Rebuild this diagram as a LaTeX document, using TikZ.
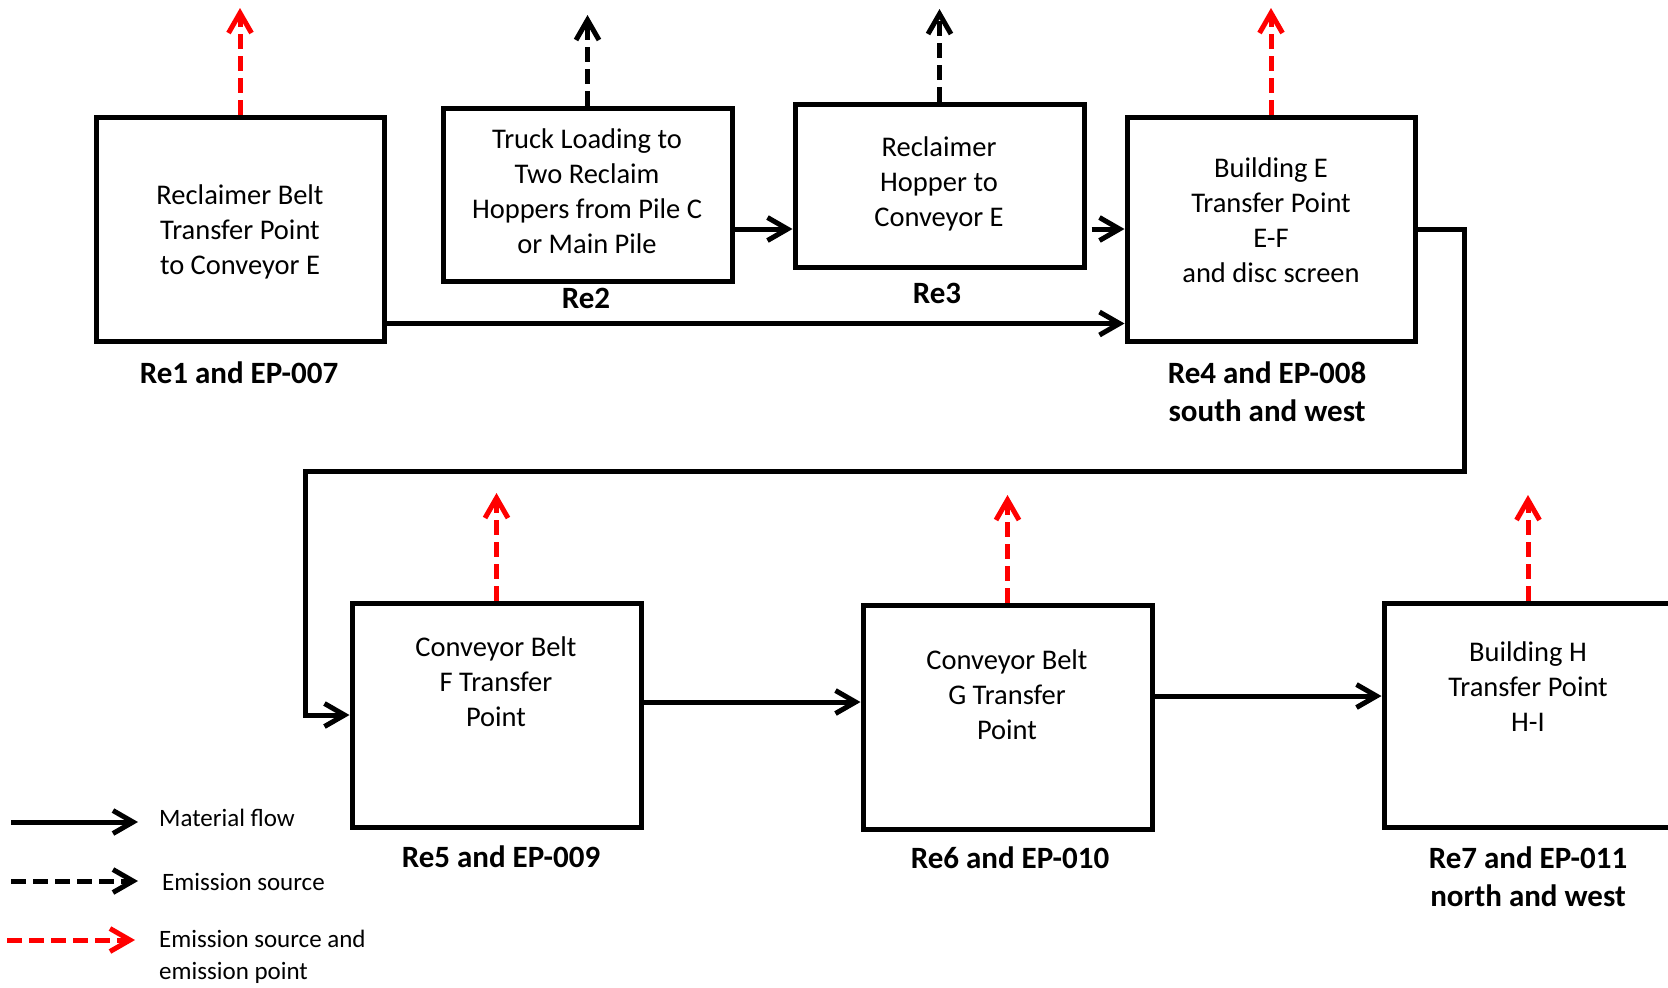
\documentclass[tikz,border=0pt]{standalone}
\usepackage{fontspec}
\setmainfont{Carlito}
\usetikzlibrary{arrows.meta}

\begin{document}
\begin{tikzpicture}[x=0.5pt, y=-0.5pt, line width=2.5pt]
\tikzstyle{block}=[rectangle, draw=black, line width=2.5pt, inner sep=0pt]
\tikzstyle{blocktext}=[align=center, font=\fontsize{14.25}{17.5}\selectfont]
\tikzstyle{tag}=[align=center, font=\fontsize{15.5}{19}\selectfont\bfseries]
\tikzstyle{legendtext}=[anchor=west, align=left, font=\fontsize{12.5}{16}\selectfont]
\tikzstyle{flow}=[line width=2.5pt, -{Straight Barb[length=10pt, width=11.5pt]}]
\tikzstyle{emitsrc}=[flow, dash pattern=on 7.5pt off 3.5pt]
\tikzstyle{emitpt}=[emitsrc, red]

\useasboundingbox (0,0) rectangle (1668,987);

% top row
\node[block, minimum width=144pt, minimum height=112pt] (Re1) at (240,229) {};
\node[blocktext] (Re1t) at (240,232) {Reclaimer Belt\\Transfer Point\\to Conveyor E};
\node[tag] (Re1l) at (239,373) {Re1 and EP-007};
\node[block, minimum width=144.5pt, minimum height=86.5pt] (Re2) at (587.5,194.5) {};
\node[blocktext] (Re2t) at (587,191) {Truck Loading to\\Two Reclaim\\Hoppers from Pile C\\or Main Pile};
\node[tag] (Re2l) at (586,298) {Re2};
\node[block, minimum width=144.5pt, minimum height=81.5pt] (Re3) at (939.5,185.5) {};
\node[blocktext] (Re3t) at (939,184) {Reclaimer\\Hopper to\\Conveyor E};
\node[tag] (Re3l) at (937,293) {Re3};
\node[block, minimum width=144pt, minimum height=112pt] (Re4) at (1271,229) {};
\node[blocktext] (Re4t) at (1271,220) {Building E\\Transfer Point\\E-F\\and disc screen};
\node[tag] (Re4l) at (1267,392) {Re4 and EP-008\\south and west};

% bottom row
\node[block, minimum width=144.5pt, minimum height=112pt] (Re5) at (496.5,715) {};
\node[blocktext] (Re5t) at (496,682) {Conveyor Belt\\F Transfer\\Point};
\node[tag] (Re5l) at (501,857) {Re5 and EP-009};
\node[block, minimum width=144.5pt, minimum height=112pt] (Re6) at (1007.5,717) {};
\node[blocktext] (Re6t) at (1007,695) {Conveyor Belt\\G Transfer\\Point};
\node[tag] (Re6l) at (1010,858) {Re6 and EP-010};
\node[block, minimum width=144pt, minimum height=112pt] (Re7) at (1528,715) {};
\node[blocktext] (Re7t) at (1528,687) {Building H\\Transfer Point\\H-I};
\node[tag] (Re7l) at (1528,877) {Re7 and EP-011\\north and west};

% material flow
\draw[flow] ([yshift=10pt]Re1.south east) -- ([yshift=10pt]Re4.south west);
\draw[flow] (Re2.east |- Re4.west) -- (Re3.west |- Re4.west);
\draw[flow] ([xshift=2.5pt]Re3.east |- Re4.west) -- (Re4.west);
\coordinate (turn1) at (1464,471);
\coordinate (turn2) at (305,471);
\draw[flow] (Re4.east) -| (turn1) -- (turn2) |- (Re5.west);
\draw[flow] ([yshift=6.5pt]Re5.east) -- ([yshift=6.5pt]Re5.east -| Re6.west);
\draw[flow] ([yshift=10.5pt]Re6.east) -- ([yshift=10.5pt]Re6.east -| Re7.west);

% emissions
\coordinate (Re1up) at (240,8);
\coordinate (Re2up) at (587.5,15);
\coordinate (Re3up) at (939.5,9);
\coordinate (Re4up) at (1271,8);
\coordinate (Re5up) at (496.5,493);
\coordinate (Re6up) at (1007.5,495);
\coordinate (Re7up) at (1528,495);
\draw[emitpt] (Re1.north) -- (Re1up);
\draw[emitsrc] (Re2.north) -- (Re2up);
\draw[emitsrc] (Re3.north) -- (Re3up);
\draw[emitpt] (Re4.north) -- (Re4up);
\draw[emitpt] (Re5.north) -- (Re5up);
\draw[emitpt] (Re6.north) -- (Re6up);
\draw[emitpt] (Re7.north) -- (Re7up);

% legend
\coordinate (L1a) at (11,822);
\coordinate (L1b) at (138,822);
\coordinate (L2a) at (11,881);
\coordinate (L2b) at (138,881);
\coordinate (L3a) at (7,940);
\coordinate (L3b) at (135,940);
\draw[flow] (L1a) -- (L1b);
\draw[emitsrc] (L2a) -- (L2b);
\draw[emitpt] (L3a) -- (L3b);
\node[legendtext] (L1t) at (150,818) {Material flow};
\node[legendtext] (L2t) at (153,882) {Emission source};
\node[legendtext] (L3t) at (150,957) {Emission source and\\emission point};
\end{tikzpicture}
\end{document}
